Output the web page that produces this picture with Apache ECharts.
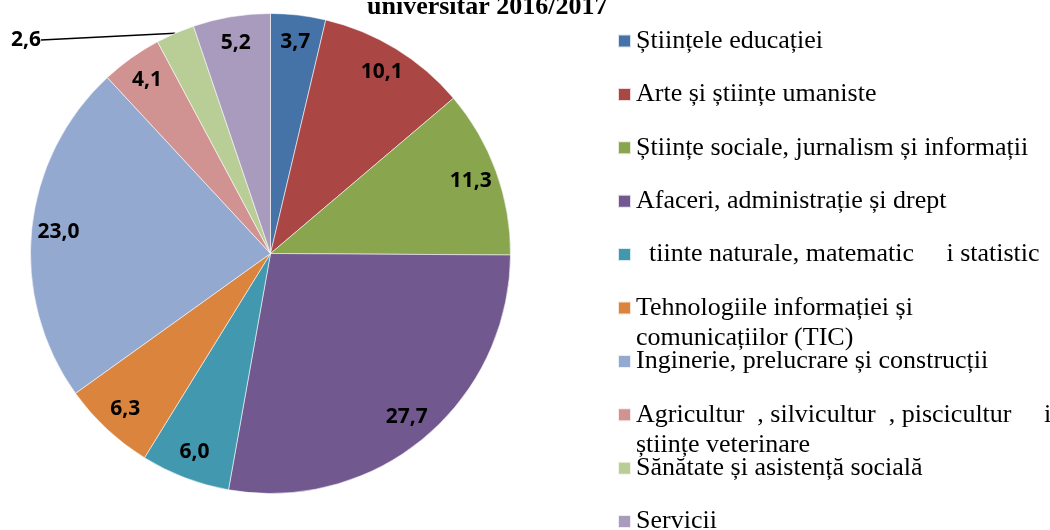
<!DOCTYPE html>
<html>
<head>
<meta charset="utf-8">
<script src="https://cdn.jsdelivr.net/npm/echarts@6/dist/echarts.min.js"></script>
<style>
html, body { margin: 0; padding: 0; background: #ffffff; }
#chart { width: 1050px; height: 530px; }
</style>
</head>
<body>
<div id="chart"></div>
<script>
// ---- data ----
const titleText = 'universitar 2016/2017';
const categories = [
  'Științele educației',
  'Arte și științe umaniste',
  'Științe sociale, jurnalism și informații',
  'Afaceri, administrație și drept',
  '  tiinte naturale, matematic     i statistic',
  'Tehnologiile informației și\ncomunicațiilor (TIC)',
  'Inginerie, prelucrare și construcții',
  'Agricultur  , silvicultur  , piscicultur     i\nștiințe veterinare',
  'Sănătate și asistență socială',
  'Servicii'
];
const shares = [3.7, 10.1, 11.3, 27.7, 6.0, 6.3, 23.0, 4.1, 2.6, 5.2];
const colors = ['#4572A7', '#AA4643', '#89A54E', '#71588F', '#4198AF',
                '#DB843D', '#93A9CF', '#D19392', '#B9CD96', '#A99BBD'];

// ---- layout / style ----
const CX = 270.5, CY = 253.5, R = 240;
const OUTSIDE_INDEX = 8;
const serif = 'Liberation Serif';
const fmt = v => v.toFixed(1).replace('.', ',');

const LEG_FIRST = 41, LEG_STEP = 53.4, LINE_H = 30;
const legendGroups = [[0, 5], [5, 6], [6, 7], [7, 8], [8, 10]];
const isMulti = n => n.indexOf('\n') >= 0;

const legendBase = {
  orient: 'vertical',
  left: 617,
  padding: 0,
  height: 400,
  itemWidth: 13,
  itemHeight: 13,
  itemGap: LEG_STEP - LINE_H,
  icon: 'rect',
  selectedMode: false,
  formatter: n => (isMulti(n) ? '\n' + n : n),
  textStyle: { fontFamily: serif, fontSize: 26, color: '#000', lineHeight: LINE_H }
};
const legends = legendGroups.map(([a, b]) => {
  const c = LEG_FIRST + LEG_STEP * a;
  const top = c - (isMulti(categories[a]) ? LINE_H * 1.5 : LINE_H * 0.5);
  return Object.assign({}, legendBase, { top: top, data: categories.slice(a, b) });
});

const chart = echarts.init(document.getElementById('chart'), null, { renderer: 'canvas' });
chart.setOption({
  animation: false,
  color: colors,
  title: {
    text: titleText,
    left: 367,
    top: -6,
    padding: 0,
    textStyle: { fontFamily: serif, fontSize: 26, fontWeight: 'bold', color: '#000' }
  },
  legend: legends,
  series: [
    {
      type: 'pie',
      center: [CX, CY],
      radius: [0, R],
      startAngle: 90,
      clockwise: true,
      silent: true,
      label: { show: false },
      labelLine: { show: false },
      itemStyle: { borderColor: 'rgba(255,255,255,0.8)', borderWidth: 0.7 },
      data: categories.map((n, i) => ({ name: n, value: shares[i] }))
    },
    {
      type: 'pie',
      center: [CX, CY],
      radius: [R * 0.75, R],
      startAngle: 90,
      clockwise: true,
      silent: true,
      avoidLabelOverlap: false,
      itemStyle: { color: 'rgba(0,0,0,0)', borderWidth: 0 },
      label: {
        show: true,
        position: 'inside',
        formatter: p => fmt(p.value),
        fontFamily: 'Open Sans',
        fontWeight: 'bold',
        fontSize: 21,
        color: '#000'
      },
      labelLine: { show: false },
      labelLayout: function (p) {
        if (p.dataIndex !== OUTSIDE_INDEX) return {};
        return { x: 26, y: 40, align: 'center', verticalAlign: 'middle' };
      },
      data: categories.map((n, i) => {
        const d = { name: n, value: shares[i] };
        if (i === OUTSIDE_INDEX) {
          d.label = { position: 'outside' };
          d.labelLine = { show: true, length: 5, length2: 0, smooth: false,
                          lineStyle: { color: '#000', width: 1.5 } };
        }
        return d;
      })
    }
  ]
});
</script>
</body>
</html>
